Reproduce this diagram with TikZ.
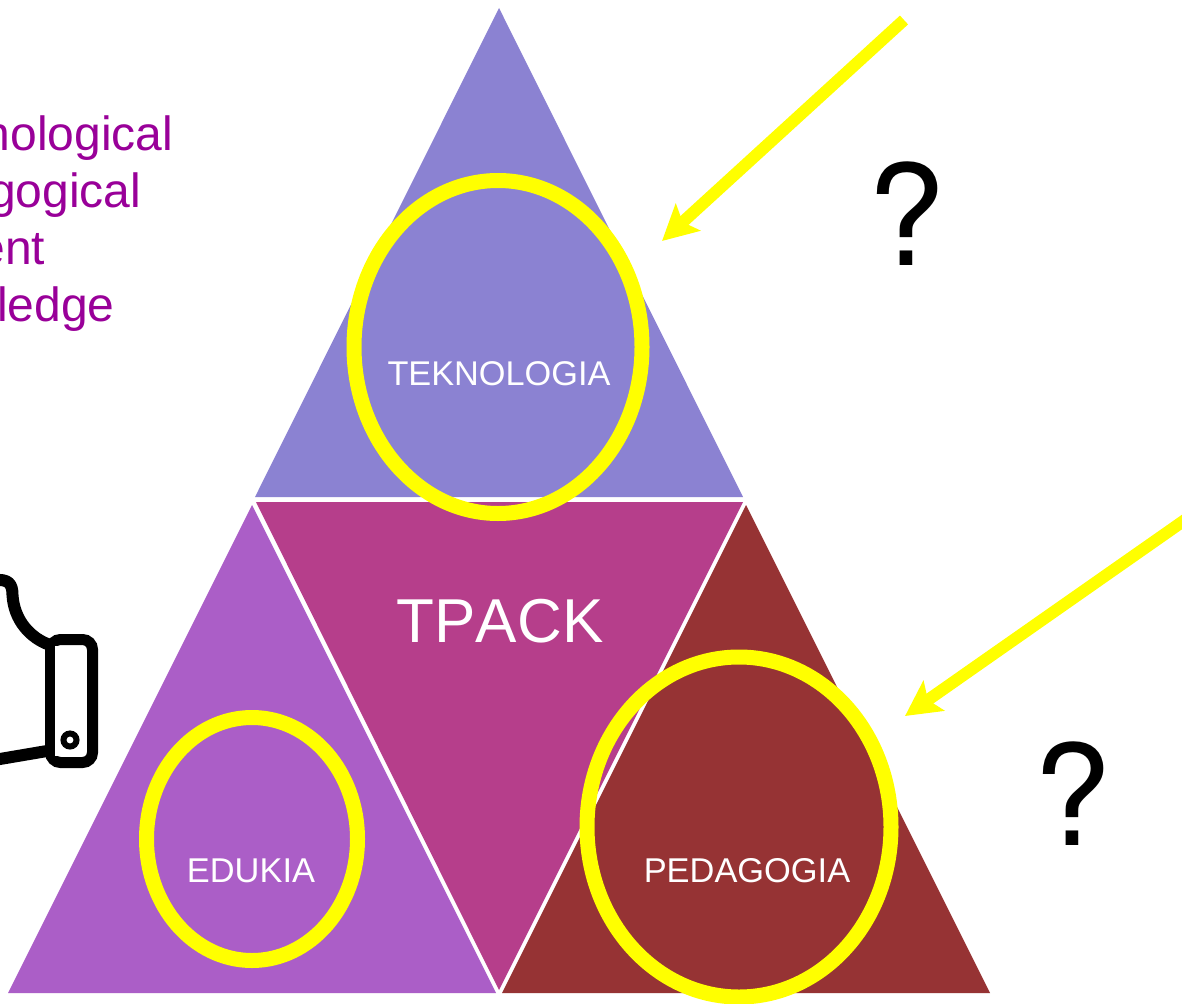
\documentclass[tikz,border=0pt]{standalone}
\usepackage{fontspec}
\setmainfont[Kerning=Off]{Liberation Sans}
\newfontfamily\qfont{TeX Gyre Heros}
\usetikzlibrary{arrows.meta,shapes.geometric}
\definecolor{topc}{HTML}{8B82D2}
\definecolor{midc}{HTML}{B63E8B}
\definecolor{leftc}{HTML}{AB5EC7}
\definecolor{rightc}{HTML}{963334}
\definecolor{hi}{HTML}{FFFF00}
\definecolor{purp}{HTML}{990099}
\tikzset{
  lbl/.style={inner sep=0pt,outer sep=0pt,anchor=base,text=white},
  ring/.style={ellipse,draw=hi,line width=15pt,inner sep=0pt,outer sep=0pt},
  pointer/.style={draw=hi,line width=12pt,-{Stealth[length=35pt,width=36pt,inset=7pt,fill=hi]}},
  qmark/.style={inner sep=0pt,outer sep=0pt,anchor=base,text=black,font=\qfont\fontsize{140}{140}\selectfont},
  icon/.style={draw=black,line cap=round,line join=round}
}
\begin{document}
\begin{tikzpicture}[x=1pt,y=-1pt]
\useasboundingbox (0,0) rectangle (1182,1003);
\clip (0,0) rectangle (1182,1003);
\fill[white] (0,0) rectangle (1182,1003);
% triangles
\fill[topc] (499,8) -- (743,497) -- (255,497) -- cycle;
\fill[midc] (256,502) -- (743,502) -- (499,990) -- cycle;
\fill[leftc] (252,505) -- (496,993) -- (8,993) -- cycle;
\fill[rightc] (746,505) -- (990,993) -- (502,993) -- cycle;
% labels
\node[lbl,font=\fontsize{34.3}{36}\selectfont] (tek) at (499,385) {TEKNOLOGIA};
\node[lbl,font=\fontsize{62}{64}\selectfont] (tpack) at (500,642) {TPACK};
\node[lbl,font=\fontsize{34.4}{36}\selectfont] (edu) at (251,882) {EDUKIA};
\node[lbl,font=\fontsize{34.4}{36}\selectfont] (ped) at (747,882) {PEDAGOGIA};
% rings
\node[ring,minimum width=288pt,minimum height=333pt] (r1) at (498,347) {};
\node[ring,minimum width=211pt,minimum height=243pt] (r2) at (252,839) {};
\node[ring,minimum width=304pt,minimum height=340pt] (r3) at (739,827) {};
% arrows
\coordinate (a1s) at (904,20);
\coordinate (a1e) at (662,241);
\coordinate (a2s) at (1190,516.4);
\coordinate (a2e) at (905,716);
\draw[pointer] (a1s) -- (a1e);
\draw[pointer] (a2s) -- (a2e);
% question marks
\node[qmark] (q1) at (906,265) {?};
\node[qmark] (q2) at (1072,845) {?};
% purple text
\node[inner sep=0pt,outer sep=0pt,anchor=north west,align=left,text=purp,font=\fontsize{48}{57}\selectfont] (txt) at (-123,116) {Technological\\Pedagogical\\Content\\Knowledge};
% thumb icon
\draw[icon,line width=12pt] (-6,580) .. controls (8,579) and (12.5,583) .. (12.5,595) .. controls (14,620) and (30,638) .. (50,645);
\draw[icon,line width=12pt] (-6,760) -- (47,751);
\node[draw=black,line width=11pt,rounded corners=10pt,minimum width=42pt,minimum height=123pt,inner sep=0pt,outer sep=0pt] (box) at (71.5,701) {};
\fill[white] (55,646) rectangle (60,756);
\node[circle,draw=black,line width=6pt,minimum size=13pt,inner sep=0pt] (dot) at (70,740) {};
\end{tikzpicture}
\end{document}
